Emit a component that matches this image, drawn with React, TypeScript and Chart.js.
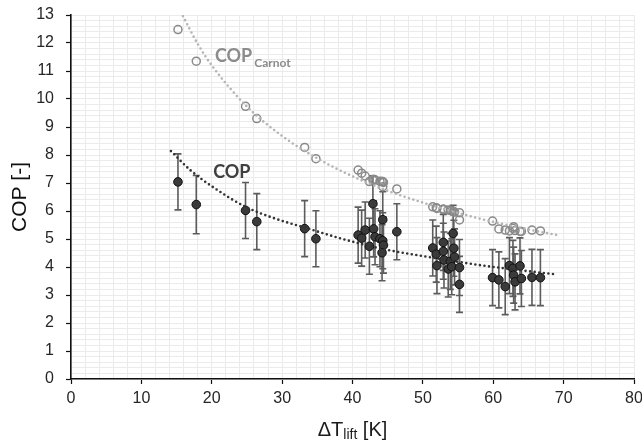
import React, { useEffect, useRef } from "react";
import { Chart, registerables } from "chart.js";

Chart.register(...registerables);

// ---- Data ----
const xLift = [
  15.2, 17.8, 24.8, 26.4, 33.2, 34.8,
  40.8, 41.3, 41.8, 42.4, 42.9, 43.0, 43.2, 43.9, 44.3, 44.3, 44.4, 44.2, 46.3,
  51.4, 51.9, 52.0, 52.9, 52.9, 53.0, 53.6, 53.9, 54.1, 54.3, 54.4, 54.5, 55.2, 55.2,
  59.9, 60.8, 61.7, 62.3, 62.8, 62.9, 63.1, 63.8, 64.0, 65.5, 66.7,
];
const copValues = [
  7.04, 6.23, 6.02, 5.62, 5.37, 5.01,
  5.14, 5.03, 5.32, 4.74, 6.26, 5.36, 5.08, 5.01, 5.69, 4.94, 4.78, 4.51, 5.26,
  4.68, 4.46, 4.05, 4.88, 4.56, 4.25, 3.93, 4.2, 4.01, 5.2, 4.67, 4.36, 3.98, 3.38,
  3.62, 3.54, 3.3, 4.05, 3.95, 3.71, 3.47, 4.04, 3.59, 3.63, 3.62,
];
const copError = [
  1.0, 1.04, 1.0, 1.0, 1.0, 1.0,
  1.0, 1.0, 1.0, 1.0, 1.0, 1.0, 1.0, 1.0, 1.0, 1.0, 1.0, 1.0, 1.0,
  1.0, 1.0, 1.0, 1.0, 1.0, 1.0, 1.0, 1.0, 1.0, 1.0, 1.0, 1.0, 1.0, 1.0,
  1.0, 1.0, 1.0, 1.0, 1.0, 1.0, 1.0, 1.0, 1.0, 1.0, 1.0,
];
const carnotValues = [
  12.48, 11.35, 9.74, 9.3, 8.27, 7.87,
  7.46, 7.35, 7.25, 7.05, 7.1, 7.13, 7.11, 7.06, 7.05, 6.87, 7.02, 7.05, 6.79,
  6.15, 6.12, 6.09, 6.06, 6.06, 6.05, 6.04, 6.02, 6.0, 5.98, 5.97, 5.96, 5.94, 5.68,
  5.64, 5.36, 5.32, 5.29, 5.38, 5.44, 5.3, 5.27, 5.27, 5.32, 5.29,
];
// dotted trend lines
const copTrendX = [14.2, 17, 20.2, 24.8, 29, 33.2, 38.2, 44, 51, 58, 64, 68.5];
const copTrendY = [8.14, 7.45, 6.85, 6.15, 5.73, 5.41, 5.03, 4.66, 4.35, 4.07, 3.88, 3.75];
const carnotTrendX = [15.9, 18, 20, 25, 30, 35, 40, 45, 50, 55, 60, 65, 69.5];
const carnotTrendY = [12.96, 11.97, 11.2, 9.73, 8.68, 7.88, 7.24, 6.72, 6.3, 5.93, 5.61, 5.34, 5.12];

const xMin = 0;
const xMax = 80;
const xStep = 10;
const xMinorStep = 2;
const yMin = 0;
const yMax = 13;
const yStep = 1;
const yMinorStep = 0.2;

const FONT = "'Liberation Sans', Arial, sans-serif";
const LABEL_FONT = "Lato, 'Noto Sans', sans-serif";

const errorBarPlugin = {
  id: "errorBars",
  beforeDatasetsDraw(chart: any) {
    const { ctx } = chart;
    const xs = chart.scales.x;
    const ys = chart.scales.y;
    ctx.save();
    ctx.strokeStyle = "#5c5c5c";
    ctx.lineWidth = 1.6;
    xLift.forEach((xv, i) => {
      const px = xs.getPixelForValue(xv);
      const top = ys.getPixelForValue(copValues[i] + copError[i]);
      const bot = ys.getPixelForValue(copValues[i] - copError[i]);
      ctx.beginPath();
      ctx.moveTo(px, top);
      ctx.lineTo(px, bot);
      ctx.moveTo(px - 3.5, top);
      ctx.lineTo(px + 3.5, top);
      ctx.moveTo(px - 3.5, bot);
      ctx.lineTo(px + 3.5, bot);
      ctx.stroke();
    });
    ctx.restore();
  },
};

const textPlugin = {
  id: "texts",
  afterDraw(chart: any) {
    const { ctx, chartArea } = chart;
    const xs = chart.scales.x;
    const ys = chart.scales.y;
    ctx.save();
    ctx.textBaseline = "alphabetic";
    ctx.textAlign = "left";

    // COP label
    ctx.fillStyle = "#404040";
    ctx.font = `bold 18px ${LABEL_FONT}`;
    ctx.fillText("COP", xs.getPixelForValue(20.2), ys.getPixelForValue(7.18));

    // COP Carnot label
    ctx.fillStyle = "#8c8c8c";
    const cx = xs.getPixelForValue(20.45);
    const cy = ys.getPixelForValue(11.32);
    ctx.font = `bold 18px ${LABEL_FONT}`;
    ctx.fillText("COP", cx, cy);
    const w = ctx.measureText("COP").width;
    ctx.font = `bold 12px ${LABEL_FONT}`;
    ctx.fillText("Carnot", cx + w + 2, cy + 5);

    // x axis title with subscript
    ctx.fillStyle = "#1a1a1a";
    const mainFont = `20px ${FONT}`;
    const subFont = `14px ${FONT}`;
    ctx.font = mainFont;
    const w1 = ctx.measureText("ΔT").width;
    const w3 = ctx.measureText(" [K]").width;
    ctx.font = subFont;
    const w2 = ctx.measureText("lift").width;
    const total = w1 + w2 + w3;
    let tx = (chartArea.left + chartArea.right) / 2 - total / 2;
    const ty = chartArea.bottom + 57;
    ctx.font = mainFont;
    ctx.fillText("ΔT", tx, ty);
    tx += w1;
    ctx.font = subFont;
    ctx.fillText("lift", tx, ty + 3);
    tx += w2;
    ctx.font = mainFont;
    ctx.fillText(" [K]", tx, ty);
    ctx.restore();
  },
};

export default function App() {
  const canvasRef = useRef<HTMLCanvasElement | null>(null);

  useEffect(() => {
    document.body.style.margin = "0";
    const canvas = canvasRef.current;
    if (!canvas) return;

    const pts = (xsArr: number[], ysArr: number[]) => xsArr.map((x, i) => ({ x, y: ysArr[i] }));

    const chart = new Chart(canvas, {
      type: "scatter",
      data: {
        datasets: [
          {
            label: "COP Carnot trend",
            data: pts(carnotTrendX, carnotTrendY),
            showLine: true,
            borderColor: "#b4b4b4",
            borderWidth: 2.6,
            borderDash: [0, 4.6],
            borderCapStyle: "round",
            cubicInterpolationMode: "monotone",
            pointRadius: 0,
            xAxisID: "x",
            yAxisID: "y",
          },
          {
            label: "COP trend",
            data: pts(copTrendX, copTrendY),
            showLine: true,
            borderColor: "#333333",
            borderWidth: 2.6,
            borderDash: [0, 4.6],
            borderCapStyle: "round",
            cubicInterpolationMode: "monotone",
            pointRadius: 0,
            xAxisID: "x",
            yAxisID: "y",
          },
          {
            label: "COP Carnot",
            data: pts(xLift, carnotValues),
            showLine: false,
            pointRadius: 4,
            pointBorderWidth: 1.5,
            pointBorderColor: "#8a8a8a",
            pointBackgroundColor: "rgba(255,255,255,0)",
            xAxisID: "x",
            yAxisID: "y",
          },
          {
            label: "COP",
            data: pts(xLift, copValues),
            showLine: false,
            pointRadius: 4.3,
            pointBorderWidth: 1,
            pointBorderColor: "#111111",
            pointBackgroundColor: "#3a3a3a",
            xAxisID: "x",
            yAxisID: "y",
          },
        ],
      },
      options: {
        responsive: false,
        animation: false,
        events: [],
        layout: { padding: { left: 0, right: 8, top: 15, bottom: 0 } },
        plugins: {
          legend: { display: false },
          tooltip: { enabled: false },
        },
        scales: {
          x: {
            type: "linear",
            position: "bottom",
            min: xMin,
            max: xMax,
            ticks: {
              stepSize: xStep,
              color: "#262626",
              font: { family: FONT, size: 16 },
              padding: 5,
              maxRotation: 0,
            },
            grid: {
              color: "#c4c4c4",
              lineWidth: 1,
              tickColor: "#111111",
              tickLength: 5,
              tickWidth: 1.2,
            },
            border: { color: "#111111", width: 1.6 },
            afterFit(scale: any) {
              scale.height = 62;
              scale.paddingLeft = 0;
              scale.paddingRight = 0;
            },
          },
          xMinor: {
            type: "linear",
            position: "bottom",
            min: xMin,
            max: xMax,
            z: -1,
            ticks: { display: false, stepSize: xMinorStep, maxTicksLimit: 200 },
            grid: { color: "#ebebeb", lineWidth: 1, drawTicks: false },
            border: { display: false },
            afterFit(scale: any) {
              scale.height = 0;
              scale.paddingLeft = 0;
              scale.paddingRight = 0;
            },
          },
          y: {
            type: "linear",
            position: "left",
            min: yMin,
            max: yMax,
            ticks: {
              stepSize: yStep,
              color: "#262626",
              font: { family: FONT, size: 16 },
              padding: 12,
            },
            grid: {
              color: "#c4c4c4",
              lineWidth: 1,
              tickColor: "#111111",
              tickLength: 5,
              tickWidth: 1.2,
            },
            border: { color: "#111111", width: 1.6 },
            title: {
              display: true,
              text: "COP [-]",
              color: "#111111",
              font: { family: FONT, size: 21 },
              padding: { top: 8, bottom: 0 },
            },
            afterFit(scale: any) {
              scale.width = 71;
              scale.paddingTop = 0;
              scale.paddingBottom = 0;
            },
          },
          yMinor: {
            type: "linear",
            position: "left",
            min: yMin,
            max: yMax,
            z: -1,
            ticks: { display: false, stepSize: yMinorStep, maxTicksLimit: 200 },
            grid: { color: "#ebebeb", lineWidth: 1, drawTicks: false },
            border: { display: false },
            afterFit(scale: any) {
              scale.width = 0;
              scale.paddingTop = 0;
              scale.paddingBottom = 0;
            },
          },
        },
      } as any,
      plugins: [errorBarPlugin, textPlugin],
    });

    return () => {
      chart.destroy();
    };
  }, []);

  return (
    <div style={{ width: 642, height: 441, background: "#ffffff" }}>
      <canvas ref={canvasRef} width={642} height={441} style={{ display: "block", width: 642, height: 441 }} />
    </div>
  );
}
